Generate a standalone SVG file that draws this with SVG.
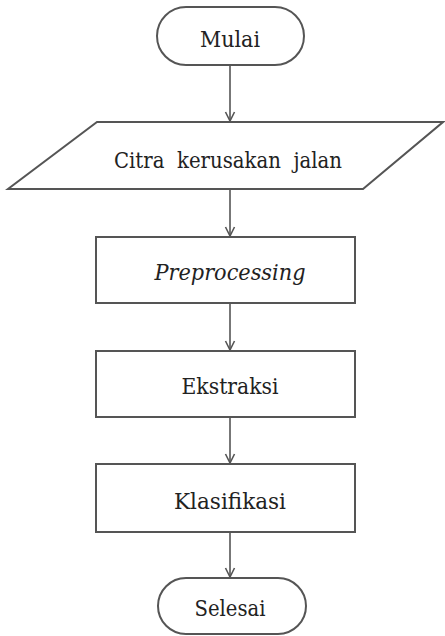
<svg xmlns="http://www.w3.org/2000/svg" width="445" height="636" viewBox="0 0 445 636">
<defs>
<style>
.s{fill:#fff;stroke:#555;stroke-width:2}
.t{font-family:'DejaVu Serif',serif;font-size:23px;fill:#222;text-anchor:middle}
.c{stroke:#555;stroke-width:1.6;fill:none}
</style>
<marker id="ah" markerWidth="14" markerHeight="14" refX="12" refY="7" orient="auto" markerUnits="userSpaceOnUse" viewBox="0 0 14 14">
<polyline points="3,2.5 12,7 3,11.5" fill="none" stroke="#555" stroke-width="1.6"/>
</marker>
</defs>
<rect width="445" height="636" fill="#fff"/>
<g id="connectors">
<line class="c" x1="230" y1="65" x2="230" y2="121" marker-end="url(#ah)"/>
<line class="c" x1="230" y1="189" x2="230" y2="236" marker-end="url(#ah)"/>
<line class="c" x1="230" y1="303" x2="230" y2="350" marker-end="url(#ah)"/>
<line class="c" x1="230" y1="417" x2="230" y2="463" marker-end="url(#ah)"/>
<line class="c" x1="230" y1="532" x2="230" y2="577" marker-end="url(#ah)"/>
</g>
<g id="mulai">
<rect class="s" x="157" y="7" width="147" height="58" rx="29" ry="29"/>
<text class="t" x="230" y="47" textLength="60" lengthAdjust="spacingAndGlyphs">Mulai</text>
</g>
<g id="citra">
<polygon class="s" points="97,122 443,122 363,189 8,189"/>
<text class="t" x="228" y="168" textLength="228" lengthAdjust="spacingAndGlyphs" xml:space="preserve">Citra  kerusakan  jalan</text>
</g>
<g id="preprocessing">
<rect class="s" x="96" y="237" width="259" height="66"/>
<text class="t" x="230" y="280" font-style="italic" textLength="151" lengthAdjust="spacingAndGlyphs">Preprocessing</text>
</g>
<g id="ekstraksi">
<rect class="s" x="96" y="351" width="259" height="66"/>
<text class="t" x="230" y="394" textLength="97" lengthAdjust="spacingAndGlyphs">Ekstraksi</text>
</g>
<g id="klasifikasi">
<rect class="s" x="96" y="464" width="259" height="68"/>
<text class="t" x="230" y="509" textLength="112" lengthAdjust="spacingAndGlyphs">Klasifikasi</text>
</g>
<g id="selesai">
<rect class="s" x="158" y="578" width="148" height="56" rx="28" ry="28"/>
<text class="t" x="230" y="616" textLength="71" lengthAdjust="spacingAndGlyphs">Selesai</text>
</g>
</svg>
